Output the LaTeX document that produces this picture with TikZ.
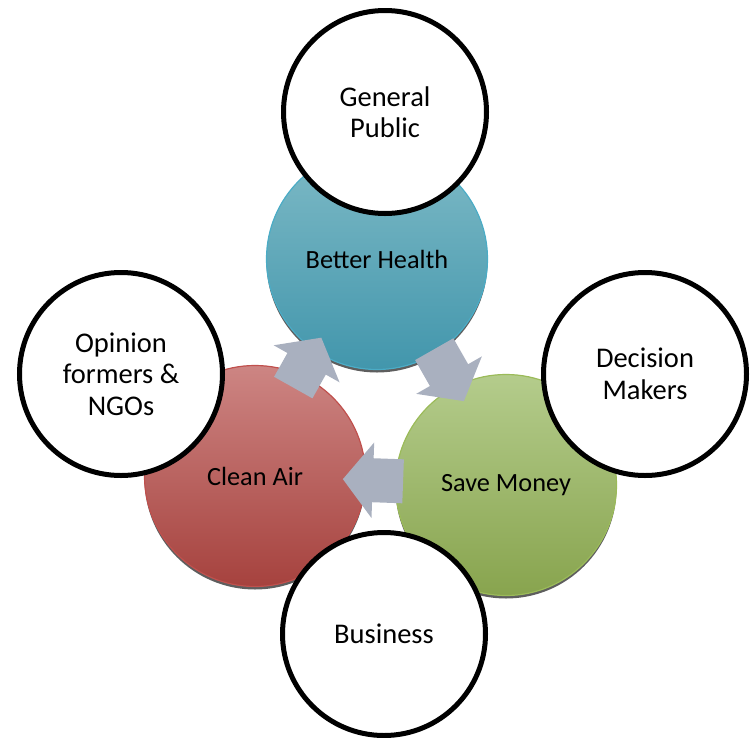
\documentclass[tikz,border=0pt]{standalone}
\usepackage{fontspec}
\setmainfont{Carlito}
\usetikzlibrary{positioning,calc,shadows,arrows.meta}
\definecolor{blu1}{RGB}{126,186,198}
\definecolor{blu2}{RGB}{66,150,172}
\definecolor{blu3}{RGB}{75,172,198}
\definecolor{red1}{RGB}{205,133,131}
\definecolor{red2}{RGB}{166,66,62}
\definecolor{red3}{RGB}{192,80,77}
\definecolor{grn1}{RGB}{180,204,140}
\definecolor{grn2}{RGB}{136,164,78}
\definecolor{grn3}{RGB}{155,187,89}
\definecolor{gry1}{RGB}{169,176,191}
\tikzstyle{benefit} = [circle, minimum size=221pt, inner sep=0pt, line width=1.2pt,
    align=center, font=\fontsize{26.3}{30}\selectfont,
    drop shadow={shadow xshift=0pt, shadow yshift=-3pt, fill=black!70, opacity=0.9}]
\tikzstyle{audience} = [circle, draw=black, fill=white, line width=5pt,
    minimum size=203pt, inner sep=0pt, align=center, font=\fontsize{28.5}{31.5}\selectfont]
\tikzstyle{cycarrow} = [gry1, line width=44pt, -{Triangle[length=30pt,width=74pt]}]

\begin{document}
\begin{tikzpicture}[x=1pt, y=-1pt]
    \useasboundingbox (0,0) rectangle (752,737);
    % Benefits in the middle
    \node (health) [benefit, top color=blu1, bottom color=blu2, draw=blu3] at (377,259) {Better Health};
    \node (money) [benefit, top color=grn1, bottom color=grn2, draw=grn3] at (506,485) {Save Money};
    \node (clean) [benefit, top color=red1, bottom color=red2, draw=red3] at (255,476) {Clean Air};

    % Arrows
    \draw [cycarrow] ($(clean)!0.385!(health)!10pt!90:(health)$) -- ($(clean)!0.615!(health)!10pt!90:(health)$);
    \draw [cycarrow] ($(health)!0.41!(money)!5pt!90:(money)$) -- ($(health)!0.64!(money)!5pt!90:(money)$);
    \draw [cycarrow] ($(money)!0.41!(clean)$) -- ($(money)!0.65!(clean)$);

    % Audiences round the outside
    \node (public) [audience] at (385,112) {General\\Public};
    \node (makers) [audience] at (645,374) {Decision\\Makers};
    \node (ngos) [audience] at (121,374) {Opinion\\formers \&\\NGOs};
    \node (business) [audience] at (384,634) {Business};
\end{tikzpicture}
\end{document}
